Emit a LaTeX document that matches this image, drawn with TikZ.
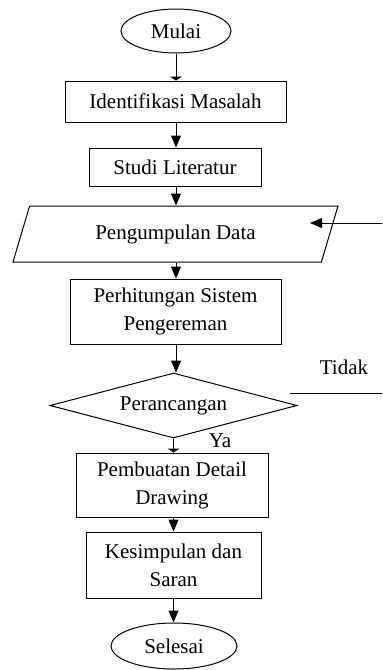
\documentclass[tikz,border=0pt]{standalone}
\usepackage{fontspec}
\setmainfont{Liberation Serif}
\usetikzlibrary{shapes.geometric,arrows.meta}
\begin{document}
\begin{tikzpicture}[x=0.5pt,y=-0.5pt,
  every node/.style={font=\fontsize{10.5}{14}\selectfont, inner sep=0pt, line width=0.5pt},
  proc/.style={draw, rectangle, align=center},
  term/.style={draw, ellipse},
  io/.style={draw, trapezium, trapezium left angle=49, trapezium right angle=131, trapezium stretches body},
  dec/.style={draw, diamond, aspect=3.8},
  flow/.style={line width=0.5pt, -{Triangle[length=6pt,width=5pt]}},
  flatflow/.style={line width=0.5pt, -{Triangle[length=2pt,width=6pt]}},
  plain/.style={line width=0.5pt}]
\useasboundingbox (0,0) rectangle (382,670);
\node[term, minimum width=55pt, minimum height=22pt] (mulai) at (176,31) {Mulai};
\node[proc, minimum width=110.5pt, minimum height=20.5pt] (idm) at (175.5,101.5) {Identifikasi Masalah};
\node[proc, minimum width=86pt, minimum height=19pt] (sl) at (175,167) {Studi Literatur};
\node[io, minimum width=162.5pt, minimum height=28pt] (pd) at (175.5,234) {Pengumpulan Data};
\node[proc, minimum width=105.5pt, minimum height=32.5pt] (ph) at (175.5,311.5) {Perhitungan Sistem\\Pengereman};
\node[dec, minimum width=123.5pt, minimum height=32.5pt] (per) at (173.5,405.5) {Perancangan};
\node[proc, minimum width=96pt, minimum height=32pt] (pdd) at (172,485) {Pembuatan Detail\\Drawing};
\node[proc, minimum width=87.5pt, minimum height=33pt] (ks) at (173.5,565) {Kesimpulan dan\\Saran};
\node[term, minimum width=63pt, minimum height=23pt] (sel) at (174,646) {Selesai};
\node (tidak) at (344,367) {Tidak};
\node (ya) at (220,441) {Ya};
\coordinate (t1) at (290,393);
\coordinate (t2) at (382,393);
\coordinate (f1) at (382,223);
\coordinate (f2) at (310,223);
\draw[flatflow] (mulai.south) -- (mulai.south |- idm.north);
\draw[flow] (idm.south -| mulai.south) -- (mulai.south |- sl.north);
\draw[flow] (sl.south -| mulai.south) -- (mulai.south |- pd.north);
\draw[flow] (pd.south -| mulai.south) -- (mulai.south |- ph.north);
\draw[flow] (ph.south -| mulai.south) -- (mulai.south |- per.north);
\draw[flatflow] (per.south) -- (per.south |- pdd.north);
\draw[flow] (pdd.south -| per.south) -- (per.south |- ks.north);
\draw[flow] (ks.south -| per.south) -- (per.south |- sel.north);
\draw[plain] (t1) -- (t2);
\draw[flow] (f1) -- (f2);
\end{tikzpicture}
\end{document}
